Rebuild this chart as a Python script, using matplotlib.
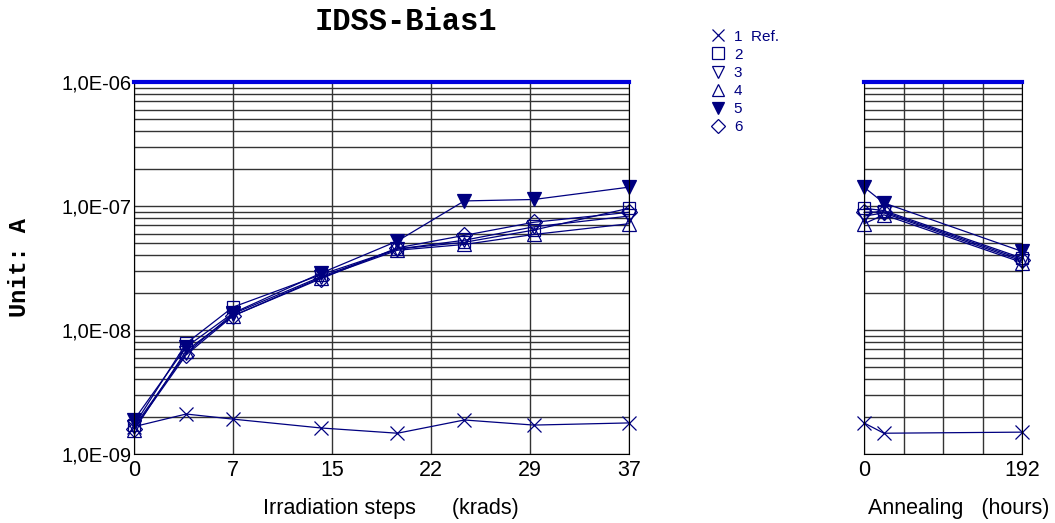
import matplotlib.pyplot as plt
import numpy as np
from matplotlib.lines import Line2D

# irradiation steps (krads) and annealing times (hours)
dose = [0, 3.9, 7.4, 14, 19.7, 24.7, 29.9, 37]
hours = [0, 24, 192]

dose_ticks = [0, 7.4, 14.8, 22.2, 29.6, 37]
dose_labels = ['0', '7', '15', '22', '29', '37']

series_names = ['1  Ref.', '2', '3', '4', '5', '6']
markers = ['x', 's', 'v', '^', 'v', 'D']

# IDSS values (A) during irradiation
irr_1 = [1.66e-9, 2.1e-9, 1.91e-9, 1.62e-9, 1.47e-9, 1.88e-9, 1.71e-9, 1.78e-9]
irr_2 = [1.7e-9, 7.8e-9, 1.53e-8, 2.8e-8, 4.5e-8, 5.1e-8, 6.4e-8, 9.6e-8]
irr_3 = [1.65e-9, 6.5e-9, 1.35e-8, 2.7e-8, 4.5e-8, 5.3e-8, 6.8e-8, 8.3e-8]
irr_4 = [1.55e-9, 6.8e-9, 1.3e-8, 2.65e-8, 4.4e-8, 4.9e-8, 5.9e-8, 7.2e-8]
irr_5 = [1.88e-9, 7.3e-9, 1.37e-8, 2.88e-8, 5.22e-8, 1.10e-7, 1.13e-7, 1.42e-7]
irr_6 = [1.6e-9, 6.3e-9, 1.3e-8, 2.6e-8, 4.6e-8, 5.8e-8, 7.4e-8, 8.9e-8]

# IDSS values (A) during annealing
ann_1 = [1.78e-9, 1.47e-9, 1.5e-9]
ann_2 = [9.6e-8, 9.2e-8, 3.8e-8]
ann_3 = [8.3e-8, 8.8e-8, 3.6e-8]
ann_4 = [7.2e-8, 8.5e-8, 3.5e-8]
ann_5 = [1.42e-7, 1.06e-7, 4.3e-8]
ann_6 = [8.9e-8, 9.0e-8, 3.7e-8]

irr = [irr_1, irr_2, irr_3, irr_4, irr_5, irr_6]
ann = [ann_1, ann_2, ann_3, ann_4, ann_5, ann_6]

navy = '#000080'
fig = plt.figure(figsize=(10.55, 5.23), dpi=100)
ax1 = fig.add_axes([0.127, 0.132, 0.469, 0.711])
ax2 = fig.add_axes([0.819, 0.132, 0.150, 0.711])


def style(ax):
    ax.set_yscale('log')
    ax.set_ylim(1e-9, 1e-6)
    ax.grid(True, which='both', axis='y', color='#333333', lw=1)
    ax.grid(True, which='major', axis='x', color='#333333', lw=1)
    ax.tick_params(which='both', length=0)
    ax.tick_params(axis='y', labelsize=14.5, pad=2)
    ax.tick_params(axis='x', labelsize=15.5, pad=4)
    for s in ['left', 'right', 'bottom']:
        ax.spines[s].set_color('black')
    ax.spines['top'].set_color('#0000dd')
    ax.spines['top'].set_linewidth(3)
    ax.set_axisbelow(True)


for i in range(6):
    fc = navy if i == 4 else 'none'
    ms = 8 if markers[i] == 'D' else 10
    if markers[i] == 's':
        ms = 9
    ax1.plot(dose, irr[i], color=navy, lw=0.9, marker=markers[i], ms=ms,
             mfc=fc, mec=navy, mew=0.9, clip_on=False)
    ax2.plot(hours, ann[i], color=navy, lw=0.9, marker=markers[i], ms=ms,
             mfc=fc, mec=navy, mew=0.9, clip_on=False)

style(ax1)
ax1.set_xlim(0, 37)
ax1.set_xticks(dose_ticks)
ax1.set_xticklabels(dose_labels)
ax1.set_yticks([1e-9, 1e-8, 1e-7, 1e-6])
ax1.set_yticklabels(['1,0E-09', '1,0E-08', '1,0E-07', '1,0E-06'])
ax1.set_xlabel('Irradiation steps      (krads)', fontsize=15.5, ha='left', va='center')
ax1.xaxis.set_label_coords(0.261, -0.147)
ax1.set_ylabel('Unit: A', fontfamily='Liberation Mono', fontweight='bold',
               fontsize=17, va='center')
ax1.yaxis.set_label_coords(-0.232, 0.5)

style(ax2)
ax2.set_xlim(0, 192)
ax2.set_xticks([0, 48, 96, 144, 192])
ax2.set_xticklabels(['0', '', '', '', '192'])
ax2.set_yticks([1e-9, 1e-8, 1e-7, 1e-6])
ax2.set_yticklabels([])
ax2.set_xlabel('Annealing   (hours)', fontsize=15.5, ha='left', va='center')
ax2.xaxis.set_label_coords(0.025, -0.147)

fig.text(406 / 1055, 1 - 22 / 523, 'IDSS-Bias1', fontfamily='Liberation Mono',
         fontweight='bold', fontsize=22, ha='center', va='center')

for ax in (ax1, ax2):
    for lab in ax.get_xticklabels() + ax.get_yticklabels():
        lab.set_fontfamily('Liberation Sans')
    ax.xaxis.label.set_fontfamily('Liberation Sans')

handles = []
for i in range(6):
    fc = navy if i == 4 else 'none'
    handles.append(Line2D([], [], ls='none', marker=markers[i], ms=9 if markers[i] != 'D' else 7,
                          mfc=fc, mec=navy, mew=0.9, color=navy))
leg = fig.legend(handles, series_names, loc='upper left', bbox_to_anchor=(0.668, 0.955),
                 frameon=False, fontsize=11, handlelength=1.0, handletextpad=0.5,
                 labelspacing=0.27, borderaxespad=0)
for t in leg.get_texts():
    t.set_color(navy)
    t.set_fontfamily('Liberation Sans')

fig.savefig('out.png', dpi=100)
